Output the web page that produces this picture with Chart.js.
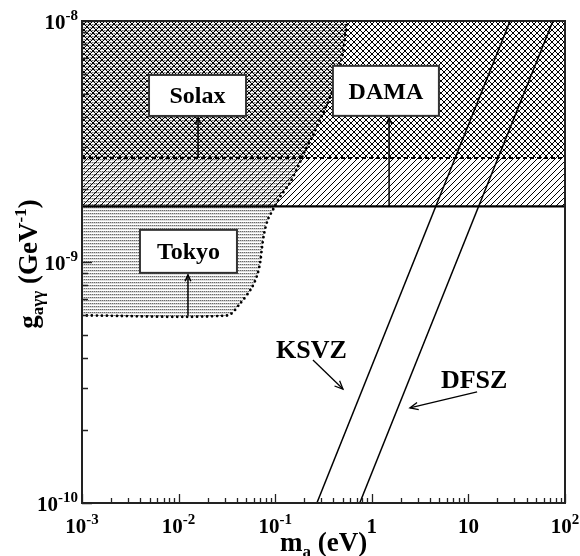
<!DOCTYPE html>
<html>
<head>
<meta charset="utf-8">
<script src="https://cdn.jsdelivr.net/npm/chart.js@4.4.1/dist/chart.umd.min.js"></script>
<style>
  html, body { margin: 0; padding: 0; background: #fff; }
  canvas { display: block; }
</style>
</head>
<body>
<canvas id="c" width="580" height="556"></canvas>
<script>
// Axion mass range and coupling range (log-log)
const massRange = [1e-3, 1e2];          // m_a (eV)
const couplingRange = [1e-10, 1e-8];    // g_aγγ (GeV^-1)

// Tick labels: [base, exponent]
const xTickValues = [1e-3, 1e-2, 1e-1, 1, 10, 100];
const xTickLabels = [['10', '-3'], ['10', '-2'], ['10', '-1'], ['1', ''], ['10', ''], ['10', '2']];
const yTickValues = [1e-10, 1e-9, 1e-8];
const yTickLabels = [['10', '-10'], ['10', '-9'], ['10', '-8']];

// Exclusion limits (horizontal)
const solaxLimit = 2.7e-9;
const damaLimit = 1.7e-9;

// Tokyo helioscope exclusion boundary
const tokyoMass =     [1e-3,  0.032, 0.043,  0.057,  0.065,  0.070, 0.073,   0.077,   0.084,  0.095,   0.112,   0.142,   0.172,   0.200,  0.250,  0.390,  0.492, 0.553];
const tokyoCoupling = [6e-10, 6e-10, 6.7e-10,7.8e-10,8.8e-10,1.0e-9,1.15e-9, 1.32e-9, 1.5e-9, 1.65e-9, 1.86e-9, 2.13e-9, 2.48e-9, 2.85e-9,3.4e-9, 5.1e-9, 7.0e-9, 1e-8];

// Axion model bands (g proportional to m)
const ksvzMass = [0.27, 27];
const ksvzCoupling = [1e-10, 1e-8];
const dfszMass = [0.75, 75];
const dfszCoupling = [1e-10, 1e-8];

// Region labels: text, box anchor (data), arrow start (data)
const regionLabels = [
  { text: 'Solax', cx: 0.0157, cy: 4.91e-9, w: 97,  h: 41, ax: 0.0159, ay: solaxLimit },
  { text: 'DAMA',  cx: 1.40,   cy: 5.13e-9, w: 106, h: 50, ax: 1.51,   ay: damaLimit },
  { text: 'Tokyo', cx: 0.01265,cy: 1.107e-9,w: 97,  h: 43, ax: 0.0125, ay: 6e-10 }
];
// Model labels: text position (data) and arrow (data)
const modelLabels = [
  { text: 'KSVZ', tx: 0.102, ty: 4.0e-10, fx: 0.246, fy: 3.92e-10, toX: 0.503, toY: 2.97e-10 },
  { text: 'DFSZ', tx: 5.2,   ty: 3.0e-10, fx: 12.3,  fy: 2.89e-10, toX: 2.48,  toY: 2.48e-10 }
];

const SERIF = '"Liberation Serif", "Times New Roman", "DejaVu Serif", serif';

function pts(xs, ys) { return xs.map((v, i) => ({ x: v, y: ys[i] })); }

function hatchPattern(forward) {
  const s = 6;
  const c = document.createElement('canvas');
  c.width = s; c.height = s;
  const g = c.getContext('2d');
  g.strokeStyle = '#000';
  g.lineWidth = 1;
  g.beginPath();
  if (forward) {
    g.moveTo(-1, s + 1); g.lineTo(s + 1, -1);
    g.moveTo(-1, 1); g.lineTo(1, -1);
    g.moveTo(s - 1, s + 1); g.lineTo(s + 1, s - 1);
  } else {
    g.moveTo(-1, -1); g.lineTo(s + 1, s + 1);
    g.moveTo(-1, s - 1); g.lineTo(1, s + 1);
    g.moveTo(s - 1, -1); g.lineTo(s + 1, 1);
  }
  g.stroke();
  return g.createPattern(c, 'repeat');
}

function stipplePattern() {
  const c = document.createElement('canvas');
  c.width = 2; c.height = 3;
  const g = c.getContext('2d');
  g.fillStyle = '#ffffff'; g.fillRect(0, 0, 2, 3);
  g.fillStyle = '#6a6a6a'; g.fillRect(0, 0, 1, 1);
  g.fillStyle = '#bcbcbc'; g.fillRect(1, 0, 1, 1);
  g.fillStyle = '#dcdcdc'; g.fillRect(0, 1, 2, 1);
  return g.createPattern(c, 'repeat');
}

function arrow(ctx, x1, y1, x2, y2, head) {
  ctx.beginPath();
  ctx.moveTo(x1, y1); ctx.lineTo(x2, y2);
  ctx.stroke();
  const ang = Math.atan2(y2 - y1, x2 - x1);
  const a = 0.42;
  ctx.beginPath();
  ctx.moveTo(x2 - head * Math.cos(ang - a), y2 - head * Math.sin(ang - a));
  ctx.lineTo(x2, y2);
  ctx.lineTo(x2 - head * Math.cos(ang + a), y2 - head * Math.sin(ang + a));
  ctx.stroke();
}

function powLabel(ctx, base, exp, px, baseline, align) {
  ctx.font = 'bold 21px ' + SERIF;
  const wb = ctx.measureText(base).width;
  ctx.font = 'bold 15px ' + SERIF;
  const we = exp ? ctx.measureText(exp).width : 0;
  const total = wb + we;
  const x0 = align === 'center' ? px - total / 2 : align === 'right' ? px - total : px;
  ctx.textAlign = 'left';
  ctx.textBaseline = 'alphabetic';
  ctx.font = 'bold 21px ' + SERIF;
  ctx.fillText(base, x0, baseline);
  if (exp) {
    ctx.font = 'bold 15px ' + SERIF;
    ctx.fillText(exp, x0 + wb, baseline - 9);
  }
}

// Draws a run of [text, fontPx, baselineShift] pieces starting at x
function richText(ctx, pieces, x, y) {
  let cx = x;
  pieces.forEach(([t, size, dy]) => {
    ctx.font = 'bold ' + size + 'px ' + SERIF;
    ctx.fillText(t, cx, y + dy);
    cx += ctx.measureText(t).width;
  });
  return cx - x;
}
function richWidth(ctx, pieces) {
  let w = 0;
  pieces.forEach(([t, size]) => { ctx.font = 'bold ' + size + 'px ' + SERIF; w += ctx.measureText(t).width; });
  return w;
}

const decor = {
  id: 'decor',
  afterDatasetsDraw(chart) {
    const { ctx, chartArea: a, scales: { x, y } } = chart;
    ctx.save();
    ctx.fillStyle = '#000';
    ctx.strokeStyle = '#000';

    // region label boxes with arrows
    ctx.lineWidth = 1.5;
    regionLabels.forEach(r => {
      const cx = x.getPixelForValue(r.cx), cy = y.getPixelForValue(r.cy);
      const bx = cx - r.w / 2, by = cy - r.h / 2;
      const ax = x.getPixelForValue(r.ax), ay = y.getPixelForValue(r.ay);
      ctx.strokeStyle = '#000';
      arrow(ctx, ax, ay, ax, by + r.h + 2, 7);
      ctx.fillStyle = '#fff';
      ctx.fillRect(bx, by, r.w, r.h);
      ctx.strokeStyle = '#333';
      ctx.lineWidth = 2;
      ctx.strokeRect(bx, by, r.w, r.h);
      ctx.lineWidth = 1.5;
      ctx.fillStyle = '#000';
      ctx.font = 'bold 24px ' + SERIF;
      ctx.textAlign = 'center';
      ctx.textBaseline = 'alphabetic';
      ctx.fillText(r.text, cx, cy + 8);
    });

    // model labels with arrows
    ctx.strokeStyle = '#000';
    ctx.lineWidth = 1.3;
    modelLabels.forEach(m => {
      ctx.font = 'bold 26px ' + SERIF;
      ctx.textAlign = 'left';
      ctx.textBaseline = 'alphabetic';
      ctx.fillText(m.text, x.getPixelForValue(m.tx), y.getPixelForValue(m.ty));
      arrow(ctx, x.getPixelForValue(m.fx), y.getPixelForValue(m.fy),
            x.getPixelForValue(m.toX), y.getPixelForValue(m.toY), 9);
    });

    // frame
    ctx.strokeStyle = '#222';
    ctx.lineWidth = 2;
    ctx.strokeRect(a.left, a.top, a.right - a.left, a.bottom - a.top);

    // inward ticks
    ctx.lineWidth = 1.3;
    ctx.beginPath();
    for (let e = -3; e <= 2; e++) {
      for (let k = 1; k <= 9; k++) {
        const v = k * Math.pow(10, e);
        if (v > massRange[1] * 1.0001) break;
        const px = Math.round(x.getPixelForValue(v)) + 0.5;
        const len = k === 1 ? 9 : 5;
        ctx.moveTo(px, a.bottom); ctx.lineTo(px, a.bottom - len);
      }
    }
    for (let e = -10; e <= -8; e++) {
      for (let k = 1; k <= 9; k++) {
        const v = k * Math.pow(10, e);
        if (v > couplingRange[1] * 1.0001) break;
        const py = Math.round(y.getPixelForValue(v)) + 0.5;
        const len = k === 1 ? 10 : 6;
        ctx.moveTo(a.left, py); ctx.lineTo(a.left + len, py);
      }
    }
    ctx.stroke();

    // tick labels
    ctx.fillStyle = '#000';
    xTickValues.forEach((v, i) => {
      powLabel(ctx, xTickLabels[i][0], xTickLabels[i][1], x.getPixelForValue(v), a.bottom + 30, 'center');
    });
    yTickValues.forEach((v, i) => {
      powLabel(ctx, yTickLabels[i][0], yTickLabels[i][1], a.left - 4, y.getPixelForValue(v) + 8, 'right');
    });

    // x axis title
    ctx.textAlign = 'left';
    ctx.textBaseline = 'alphabetic';
    richText(ctx, [['m', 27, 0], ['a', 17, 6], [' (eV)', 27, 0]], 280, 551);

    // y axis title (rotated)
    const yPieces = [['g', 27, 0], ['aγγ', 17, 6], [' (GeV', 27, 0], ['-1', 17, -11], [')', 27, 0]];
    ctx.save();
    ctx.translate(37, 264);
    ctx.rotate(-Math.PI / 2);
    const w = richWidth(ctx, yPieces);
    richText(ctx, yPieces, -w / 2, 0);
    ctx.restore();

    ctx.restore();
  }
};

new Chart(document.getElementById('c'), {
  type: 'scatter',
  data: {
    datasets: [
      { label: 'KSVZ', data: pts(ksvzMass, ksvzCoupling), showLine: true, borderColor: '#000', borderWidth: 1.5, pointRadius: 0, fill: false },
      { label: 'DFSZ', data: pts(dfszMass, dfszCoupling), showLine: true, borderColor: '#000', borderWidth: 1.5, pointRadius: 0, fill: false },
      { label: 'Solax', data: pts(massRange, [solaxLimit, solaxLimit]), showLine: true, borderColor: '#000', borderWidth: 2, borderDash: [4, 3], pointRadius: 0, fill: 'end', backgroundColor: hatchPattern(false) },
      { label: 'DAMA', data: pts(massRange, [damaLimit, damaLimit]), showLine: true, borderColor: '#000', borderWidth: 2.2, pointRadius: 0, fill: 'end', backgroundColor: hatchPattern(true) },
      { label: 'Tokyo', data: pts(tokyoMass, tokyoCoupling), showLine: true, borderColor: '#000', borderWidth: 2.8, borderDash: [0, 5], borderCapStyle: 'round', tension: 0.3, pointRadius: 0, fill: 'end', backgroundColor: stipplePattern() }
    ]
  },
  options: {
    responsive: false,
    animation: false,
    events: [],
    layout: { padding: { left: 82, right: 15, top: 21, bottom: 53 } },
    scales: {
      x: { type: 'logarithmic', min: massRange[0], max: massRange[1], display: false },
      y: { type: 'logarithmic', min: couplingRange[0], max: couplingRange[1], display: false }
    },
    plugins: {
      legend: { display: false },
      tooltip: { enabled: false },
      filler: { drawTime: 'beforeDatasetsDraw' }
    }
  },
  plugins: [decor]
});
</script>
</body>
</html>
